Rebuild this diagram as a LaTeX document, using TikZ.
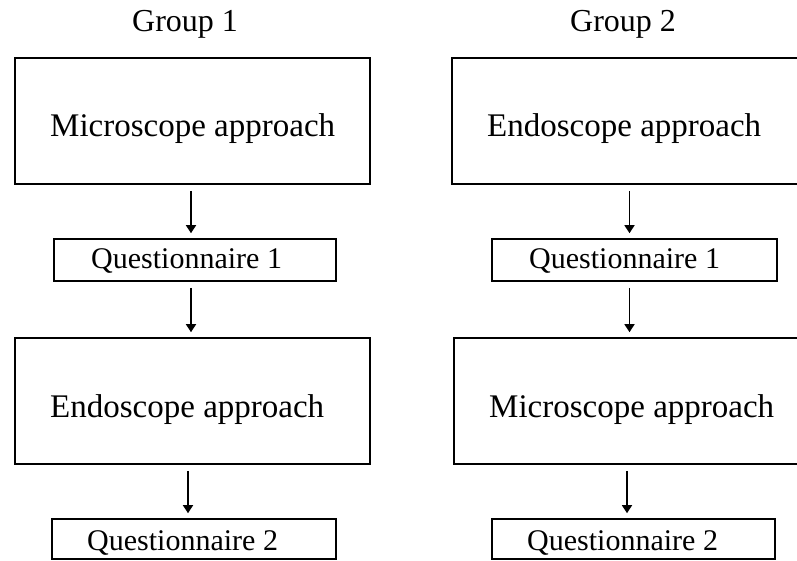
\documentclass[tikz,border=0pt]{standalone}
\usepackage{fontspec}
\setmainfont{Liberation Serif}
\usetikzlibrary{arrows.meta}
\tikzset{
  bigbox/.style={draw, line width=1.6pt, minimum width=355pt, minimum height=126pt, inner sep=0pt},
  qbox/.style={draw, line width=1.6pt, minimum height=42pt, inner sep=0pt},
  bigtxt/.style={anchor=base west, inner sep=0pt, font=\fontsize{33}{38}\selectfont},
  qtxt/.style={anchor=base west, inner sep=0pt, font=\fontsize{30}{35}\selectfont},
  grptxt/.style={anchor=base west, inner sep=0pt, font=\fontsize{32}{37}\selectfont},
  flow/.style={line width=1.5pt, -{Triangle[width=10pt,length=8pt]}, shorten <=6pt, shorten >=5pt}
}
\begin{document}
\begin{tikzpicture}[x=1pt,y=-1pt]
\clip (0,0) rectangle (797,561);
\fill[white] (0,0) rectangle (797,561);
% group labels
\node[grptxt] (g1) at (132,32) {Group 1};
\node[grptxt] (g2) at (570,32) {Group 2};
% left column
\node[bigbox] (l1) at (192.5,121) {};
\node[bigtxt] (l1t) at (50,137) {Microscope approach};
\node[qbox, minimum width=282pt] (lq1) at (195,260) {};
\node[qtxt] (lq1t) at (91,269) {Questionnaire 1};
\node[bigbox] (l2) at (192.5,401) {};
\node[bigtxt] (l2t) at (50,417) {Endoscope approach};
\node[qbox, minimum width=284pt, minimum height=40pt] (lq2) at (194,539) {};
\node[qtxt] (lq2t) at (87,550) {Questionnaire 2};
% right column
\node[bigbox] (r1) at (629.5,121) {};
\node[bigtxt] (r1t) at (487,137) {Endoscope approach};
\node[qbox, minimum width=285pt] (rq1) at (634.5,260) {};
\node[qtxt] (rq1t) at (529,269) {Questionnaire 1};
\node[bigbox] (r2) at (631.5,401) {};
\node[bigtxt] (r2t) at (489,417) {Microscope approach};
\node[qbox, minimum width=283pt, minimum height=40pt] (rq2) at (633.5,539) {};
\node[qtxt] (rq2t) at (527,550) {Questionnaire 2};
% arrows
\draw[flow] ([xshift=-1.5pt]l1.south) -- ([xshift=-1.5pt]l1.south |- lq1.north);
\draw[flow] ([xshift=-1.5pt]lq1.south -| l1.south) -- ([xshift=-1.5pt]l2.north);
\draw[flow] ([xshift=-4.5pt]l2.south) -- ([xshift=-4.5pt]l2.south |- lq2.north);
\draw[flow] (r1.south) -- (r1.south |- rq1.north);
\draw[flow] (r1.south |- rq1.south) -- (r1.south |- r2.north);
\draw[flow] ([xshift=-4.5pt]r2.south) -- ([xshift=-4.5pt]r2.south |- rq2.north);
\end{tikzpicture}
\end{document}
